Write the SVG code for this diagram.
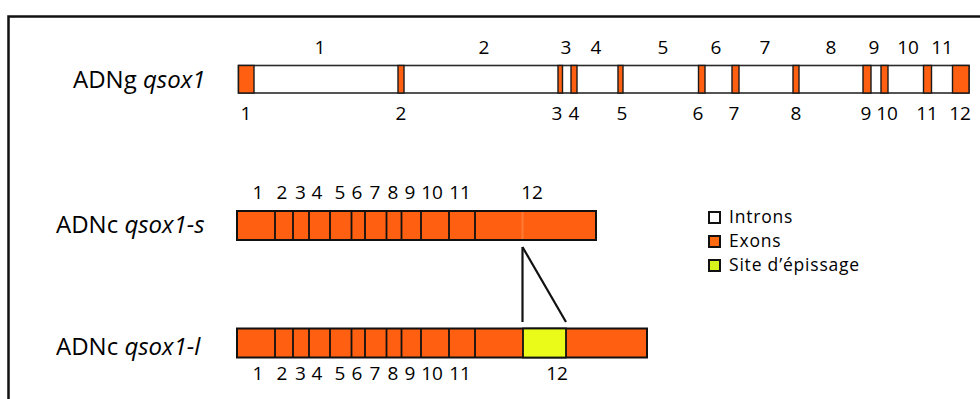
<svg xmlns="http://www.w3.org/2000/svg" width="980" height="399" viewBox="0 0 980 399">
<style>
text{font-family:"Open Sans","Noto Sans","Liberation Sans",sans-serif;fill:#000}
.lbl{font-size:24px}
.num{font-size:19px;text-anchor:middle}
.leg{font-size:17.5px;letter-spacing:0.8px}
.it{font-style:italic}
.intron{fill:#fff;stroke:#2a2a2a;stroke-width:1.6}
.exon{fill:#FF5F10;stroke:#1a1a1a;stroke-width:1.4}
.bar{fill:#FF5F10;stroke:#111;stroke-width:2}
.div{stroke:#111;stroke-width:1.8}
.site{fill:#EAFB1A;stroke:#111;stroke-width:1.8}
.conn{stroke:#111;stroke-width:2.2;fill:none}
</style>
<rect x="8.5" y="16.5" width="990" height="400" fill="none" stroke="#111" stroke-width="2.5"/>

<g id="adng">
<text class="lbl" x="73" y="88">ADNg <tspan class="it">qsox1</tspan></text>
<rect class="intron" x="238.5" y="65.5" width="730.5" height="27.5"/>
<rect class="exon" x="238.5" y="65.5" width="15.5" height="27.5"/>
<rect class="exon" x="398" y="65.5" width="6" height="27.5"/>
<rect class="exon" x="558" y="65.5" width="4.5" height="27.5"/>
<rect class="exon" x="571" y="65.5" width="6" height="27.5"/>
<rect class="exon" x="618" y="65.5" width="5" height="27.5"/>
<rect class="exon" x="698.5" y="65.5" width="6.5" height="27.5"/>
<rect class="exon" x="732" y="65.5" width="7" height="27.5"/>
<rect class="exon" x="793" y="65.5" width="6" height="27.5"/>
<rect class="exon" x="863" y="65.5" width="8" height="27.5"/>
<rect class="exon" x="881" y="65.5" width="7" height="27.5"/>
<rect class="exon" x="923.5" y="65.5" width="8" height="27.5"/>
<rect class="exon" x="952.5" y="65.5" width="16.5" height="27.5"/>
<g class="num-top">
<text class="num" x="320" y="54">1</text>
<text class="num" x="484" y="54">2</text>
<text class="num" x="566" y="54">3</text>
<text class="num" x="596" y="54">4</text>
<text class="num" x="663" y="54">5</text>
<text class="num" x="716" y="54">6</text>
<text class="num" x="765" y="54">7</text>
<text class="num" x="831" y="54">8</text>
<text class="num" x="874" y="54">9</text>
<text class="num" x="908" y="54">10</text>
<text class="num" x="942" y="54">11</text>
</g>
<g class="num-bot">
<text class="num" x="246" y="120">1</text>
<text class="num" x="401" y="120">2</text>
<text class="num" x="557" y="120">3</text>
<text class="num" x="574" y="120">4</text>
<text class="num" x="622" y="120">5</text>
<text class="num" x="698" y="120">6</text>
<text class="num" x="734" y="120">7</text>
<text class="num" x="796" y="120">8</text>
<text class="num" x="866" y="120">9</text>
<text class="num" x="887" y="120">10</text>
<text class="num" x="927" y="120">11</text>
<text class="num" x="960" y="120">12</text>
</g>
</g>

<g id="adnc-s">
<text class="lbl" x="56" y="233">ADNc <tspan class="it">qsox1-s</tspan></text>
<rect class="bar" x="237" y="211" width="359" height="29"/>
<line x1="522.5" y1="212" x2="522.5" y2="239" stroke="#FF7A36" stroke-width="2"/>
<g class="div">
<line x1="275" y1="211" x2="275" y2="240"/>
<line x1="293" y1="211" x2="293" y2="240"/>
<line x1="309" y1="211" x2="309" y2="240"/>
<line x1="330" y1="211" x2="330" y2="240"/>
<line x1="351.5" y1="211" x2="351.5" y2="240"/>
<line x1="365" y1="211" x2="365" y2="240"/>
<line x1="386.5" y1="211" x2="386.5" y2="240"/>
<line x1="401.5" y1="211" x2="401.5" y2="240"/>
<line x1="421" y1="211" x2="421" y2="240"/>
<line x1="449" y1="211" x2="449" y2="240"/>
<line x1="475" y1="211" x2="475" y2="240"/>
</g>
<text class="num" x="258" y="199">1</text>
<text class="num" x="282" y="199">2</text>
<text class="num" x="300.5" y="199">3</text>
<text class="num" x="317" y="199">4</text>
<text class="num" x="340" y="199">5</text>
<text class="num" x="357" y="199">6</text>
<text class="num" x="375" y="199">7</text>
<text class="num" x="393" y="199">8</text>
<text class="num" x="410" y="199">9</text>
<text class="num" x="432" y="199">10</text>
<text class="num" x="460" y="199">11</text>
<text class="num" x="532" y="199">12</text>
</g>

<g id="adnc-l">
<text class="lbl" x="56" y="355">ADNc <tspan class="it">qsox1-l</tspan></text>
<rect class="bar" x="237" y="328.5" width="410" height="29"/>
<rect class="site" x="523" y="328.5" width="43" height="29"/>
<g class="div">
<line x1="275" y1="328.5" x2="275" y2="357.5"/>
<line x1="293" y1="328.5" x2="293" y2="357.5"/>
<line x1="309" y1="328.5" x2="309" y2="357.5"/>
<line x1="330" y1="328.5" x2="330" y2="357.5"/>
<line x1="351.5" y1="328.5" x2="351.5" y2="357.5"/>
<line x1="365" y1="328.5" x2="365" y2="357.5"/>
<line x1="386.5" y1="328.5" x2="386.5" y2="357.5"/>
<line x1="401.5" y1="328.5" x2="401.5" y2="357.5"/>
<line x1="421" y1="328.5" x2="421" y2="357.5"/>
<line x1="449" y1="328.5" x2="449" y2="357.5"/>
<line x1="475" y1="328.5" x2="475" y2="357.5"/>
</g>
<text class="num" x="258" y="380">1</text>
<text class="num" x="282" y="380">2</text>
<text class="num" x="300.5" y="380">3</text>
<text class="num" x="317" y="380">4</text>
<text class="num" x="340" y="380">5</text>
<text class="num" x="357" y="380">6</text>
<text class="num" x="375" y="380">7</text>
<text class="num" x="393" y="380">8</text>
<text class="num" x="410" y="380">9</text>
<text class="num" x="432" y="380">10</text>
<text class="num" x="460" y="380">11</text>
<text class="num" x="557" y="380">12</text>
</g>

<g id="connectors">
<line class="conn" x1="522.5" y1="247" x2="522.5" y2="322"/>
<line class="conn" x1="522.5" y1="247" x2="566" y2="322"/>
</g>

<g id="legend">
<rect x="709" y="212" width="11" height="11" fill="#fff" stroke="#111" stroke-width="2"/>
<text class="leg" x="729" y="222.5">Introns</text>
<rect x="709" y="236" width="11" height="11" fill="#FF6A10" stroke="#111" stroke-width="2"/>
<text class="leg" x="729" y="246.5">Exons</text>
<rect x="709" y="260" width="11" height="11" fill="#D8F21C" stroke="#111" stroke-width="2"/>
<text class="leg" x="729" y="270.5">Site d’épissage</text>
</g>
</svg>
